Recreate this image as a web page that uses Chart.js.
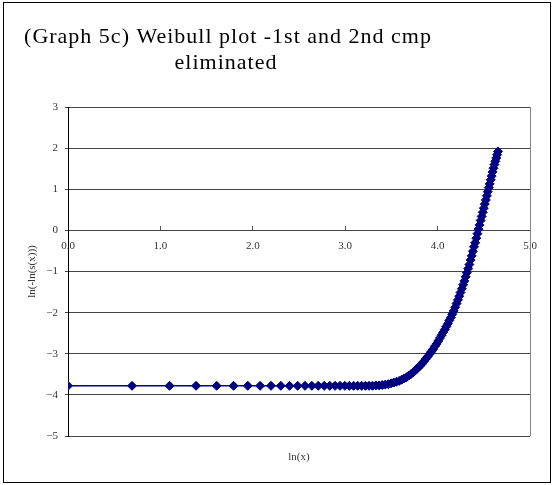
<!DOCTYPE html>
<html>
<head>
<meta charset="utf-8">
<script src="https://cdn.jsdelivr.net/npm/chart.js@4/dist/chart.umd.min.js"></script>
<style>
  html, body { margin: 0; padding: 0; background: #fff; }
  #wrap { width: 554px; height: 485px; }
</style>
</head>
<body>
<div id="wrap"><canvas id="weibull" width="554" height="485"></canvas></div>
<script>
// ln(x) for x = 1..105
var lnX = [0, 0.693, 1.099, 1.386, 1.609, 1.792, 1.946, 2.079, 2.197, 2.303,
  2.398, 2.485, 2.565, 2.639, 2.708, 2.773, 2.833, 2.890, 2.944, 2.996,
  3.045, 3.091, 3.135, 3.178, 3.219, 3.258, 3.296, 3.332, 3.367, 3.401,
  3.434, 3.466, 3.497, 3.526, 3.555, 3.584, 3.611, 3.638, 3.664, 3.689,
  3.714, 3.738, 3.761, 3.784, 3.807, 3.829, 3.850, 3.871, 3.892, 3.912,
  3.932, 3.951, 3.970, 3.989, 4.007, 4.025, 4.043, 4.060, 4.078, 4.094,
  4.111, 4.127, 4.143, 4.159, 4.174, 4.190, 4.205, 4.220, 4.234, 4.248,
  4.263, 4.277, 4.290, 4.304, 4.317, 4.331, 4.344, 4.357, 4.369, 4.382,
  4.394, 4.407, 4.419, 4.431, 4.443, 4.454, 4.466, 4.477, 4.489, 4.500,
  4.511, 4.522, 4.533, 4.543, 4.554, 4.564, 4.575, 4.585, 4.595, 4.605,
  4.615, 4.625, 4.635, 4.644, 4.654];

// ln(-ln(s(x)))
var lnLnS = [-3.78, -3.78, -3.78, -3.78, -3.78, -3.78, -3.78, -3.78, -3.78, -3.78,
  -3.78, -3.78, -3.78, -3.78, -3.78, -3.78, -3.78, -3.78, -3.78, -3.78,
  -3.78, -3.78, -3.78, -3.78, -3.78, -3.78, -3.78, -3.77, -3.77, -3.76,
  -3.75, -3.74, -3.72, -3.70, -3.68, -3.66, -3.63, -3.60, -3.57, -3.53,
  -3.49, -3.45, -3.40, -3.35, -3.30, -3.25, -3.19, -3.13, -3.07, -3.01,
  -2.95, -2.89, -2.82, -2.76, -2.69, -2.62, -2.55, -2.48, -2.41, -2.34,
  -2.27, -2.19, -2.12, -2.04, -1.96, -1.87, -1.78, -1.69, -1.60, -1.51,
  -1.42, -1.32, -1.23, -1.13, -1.03, -0.93, -0.83, -0.72, -0.62, -0.51,
  -0.40, -0.30, -0.19, -0.08, 0.03, 0.13, 0.24, 0.34, 0.44, 0.54,
  0.64, 0.74, 0.84, 0.94, 1.04, 1.13, 1.23, 1.32, 1.42, 1.51,
  1.60, 1.68, 1.76, 1.84, 1.92];

var titleLines = ["(Graph 5c) Weibull plot -1st and 2nd cmp", "eliminated"];
var xTitle = "ln(x)";
var yTitle = "ln(-ln(s(x)))";

var serif = "'Liberation Serif', 'DejaVu Serif', serif";

var points = [];
for (var i = 0; i < lnX.length; i++) {
  points.push({ x: lnX[i], y: lnLnS[i] });
}

// frame, titles and right border of the plot area
var decor = {
  id: "decor",
  beforeDraw: function(chart) {
    var ctx = chart.ctx;
    ctx.save();
    ctx.fillStyle = "#fff";
    ctx.fillRect(0, 0, chart.width, chart.height);
    ctx.restore();
  },
  afterDraw: function(chart) {
    var ctx = chart.ctx;
    var a = chart.chartArea;
    ctx.save();
    ctx.strokeStyle = "#000";
    ctx.lineWidth = 1;
    ctx.strokeRect(3.5, 2.5, 547, 480);

    ctx.strokeStyle = "#888";
    ctx.beginPath();
    ctx.moveTo(Math.round(a.right) + 0.5, a.top);
    ctx.lineTo(Math.round(a.right) + 0.5, a.bottom);
    ctx.stroke();

    ctx.fillStyle = "#000";
    ctx.textAlign = "center";
    ctx.textBaseline = "alphabetic";
    ctx.font = "normal 22px " + serif;
    ctx.letterSpacing = "1px";
    ctx.fillText(titleLines[0], 228, 43);
    ctx.fillText(titleLines[1], 226, 69);
    ctx.letterSpacing = "0px";

    ctx.textBaseline = "middle";
    ctx.font = "normal 11px " + serif;
    ctx.fillStyle = "#333";
    ctx.fillText(xTitle, (a.left + a.right) / 2, 457);
    ctx.restore();
  }
};

var cfg = {
  type: "line",
  data: {
    datasets: [
      {
        label: "Weibull",
        data: points,
        borderColor: "#000080",
        backgroundColor: "#000080",
        borderWidth: 1.5,
        pointStyle: "rectRot",
        pointRadius: 4.5,
        pointBorderWidth: 1,
        pointBackgroundColor: "#000080",
        pointBorderColor: "#000080",
        tension: 0
      }
    ]
  },
  options: {
    responsive: false,
    animation: false,
    layout: {
      padding: { left: 20, right: 24, top: 107, bottom: 49 }
    },
    scales: {
      x: {
        type: "linear",
        position: { y: 0 },
        min: 0,
        max: 5,
        border: { display: false },
        grid: { drawOnChartArea: false, tickLength: -4, color: "#555" },
        ticks: {
          stepSize: 1,
          padding: 13,
          color: "#333",
          font: { family: serif, size: 11 },
          callback: function(v) { return v.toFixed(1); }
        }
      },
      y: {
        type: "linear",
        min: -5,
        max: 3,
        afterFit: function(scale) { scale.width = 48; },
        border: { display: true, color: "#000", width: 1 },
        grid: { color: "#444", tickLength: 3 },
        ticks: {
          stepSize: 1,
          padding: 7,
          color: "#333",
          font: { family: serif, size: 11 },
          callback: function(v) { return String(v).replace("-", "\u2212"); }
        },
        title: {
          display: true,
          text: yTitle,
          color: "#333",
          font: { family: serif, size: 11 },
          padding: { top: 6, bottom: 0 }
        }
      }
    },
    plugins: {
      legend: { display: false },
      title: { display: false },
      tooltip: { enabled: false }
    }
  },
  plugins: [decor]
};

var weibullChart = new Chart(document.getElementById("weibull"), cfg);
</script>
</body>
</html>
